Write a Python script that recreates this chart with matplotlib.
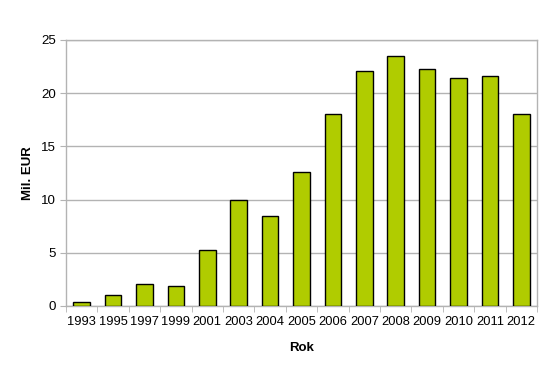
import numpy as np
import matplotlib
matplotlib.use('Agg')
import matplotlib.pyplot as plt

plt.rcParams['font.family'] = ['Liberation Sans', 'DejaVu Sans']

roky = ['1993', '1995', '1997', '1999', '2001', '2003', '2004', '2005',
        '2006', '2007', '2008', '2009', '2010', '2011', '2012']
hodnoty = [0.4, 1.0, 2.07, 1.85, 5.25, 9.97, 8.47, 12.6,
           18.05, 22.07, 23.5, 22.27, 21.4, 21.6, 18.05]

fig = plt.figure(figsize=(5.59, 3.67), dpi=100)
ax = fig.add_axes([66 / 559, 1 - 306 / 367, 471 / 559, 266 / 367])

x = np.arange(len(roky))
ax.bar(x, hodnoty, width=0.53, color='#b0cc00', edgecolor='black',
       linewidth=1.0, zorder=3)

ax.set_xlim(-0.5, len(roky) - 0.5)
ax.set_ylim(0, 25)
ax.set_yticks([0, 5, 10, 15, 20, 25])
ax.set_xticks(x)
ax.set_xticklabels(roky)
ax.set_xticks(np.arange(len(roky) + 1) - 0.5, minor=True)
ax.tick_params(axis='x', which='major', length=0, pad=7, labelsize=9.3)
ax.tick_params(axis='x', which='minor', length=4, color='#b3b3b3')
ax.tick_params(axis='y', length=4, color='#b3b3b3', labelsize=9.6, pad=3)

ax.yaxis.grid(True, color='#b3b3b3', linewidth=1.0, zorder=0)
for s in ax.spines.values():
    s.set_color('#b3b3b3')
    s.set_linewidth(1.0)

ax.set_ylabel('Mil. EUR', fontsize=9.5, fontweight='bold', labelpad=5)
ax.set_xlabel('Rok', fontsize=9.5, fontweight='bold', labelpad=10)

fig.savefig('out.png', dpi=100)
